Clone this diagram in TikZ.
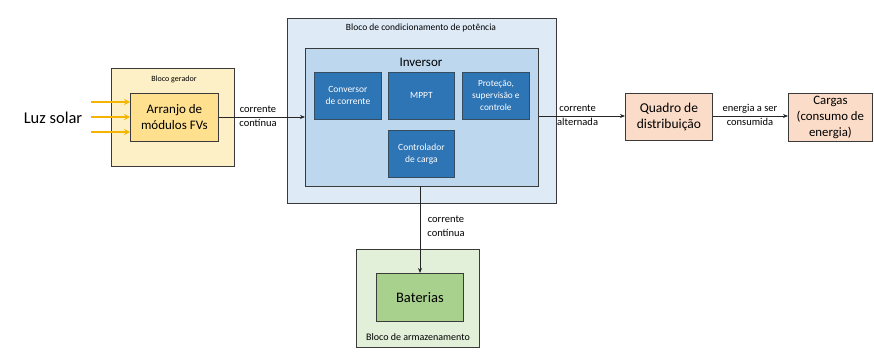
\documentclass[tikz,border=0pt]{standalone}
\usepackage{fontspec}
\setmainfont{Carlito}
\usetikzlibrary{arrows.meta,positioning}
\definecolor{gerOut}{HTML}{FDF0C6}
\definecolor{gerIn}{HTML}{FFE08F}
\definecolor{sunArrow}{HTML}{F5B400}
\definecolor{bluOut}{HTML}{DEEBF7}
\definecolor{bluMid}{HTML}{BDD7EE}
\definecolor{bluDark}{HTML}{2E75B6}
\definecolor{grnOut}{HTML}{E2F0D9}
\definecolor{grnIn}{HTML}{A9D18E}
\definecolor{peach}{HTML}{FBDCC8}
\definecolor{edge}{HTML}{3A3A3A}
\tikzset{
  x=1pt,y=-1pt,
  boxbase/.style={draw=edge,line width=0.8pt,inner sep=0pt,anchor=north west},
  blk/.style={boxbase},
  subbox/.style={boxbase,fill=bluDark,draw=edge!70!bluDark},
  subtxt/.style={text=white,font=\fontsize{9.5}{12}\selectfont,align=center,anchor=center,inner sep=0pt},
  lbl/.style={font=\fontsize{8}{9.5}\selectfont,align=center,inner sep=0pt},
  midlbl/.style={font=\fontsize{10.5}{13.5}\selectfont,align=center,inner sep=0pt},
  bigtxt/.style={font=\fontsize{13.5}{16.5}\selectfont,align=center,anchor=center},
  conn/.style={draw=black!85,line width=0.8pt,-{Stealth[length=5pt,width=4pt]}},
  sun/.style={draw=sunArrow,line width=2pt,-{Stealth[length=6pt,width=6pt]}}
}
\begin{document}
\begin{tikzpicture}
\useasboundingbox[fill=white] (0,0) rectangle (874,358);
% Bloco gerador
\node[blk,fill=gerOut,minimum width=123pt,minimum height=98pt] (ger) at (111,68) {};
\node[lbl] (gerlbl) at (174,79) {Bloco gerador};
\node[blk,fill=gerIn,minimum width=88pt,minimum height=48pt] (arr) at (130,93) {};
\node[bigtxt,font=\fontsize{13}{16}\selectfont] (arrtxt) at (arr.center) {Arranjo de\\módulos FVs};
\node[font=\fontsize{16.5}{19}\selectfont] (luz) at (53,118) {Luz solar};
\coordinate (s1) at (91,102);
\coordinate (s2) at (91,117);
\coordinate (s3) at (91,132);
\draw[sun] (s1) -- (s1 -| arr.west);
\draw[sun] (s2) -- (s2 -| arr.west);
\draw[sun] (s3) -- (s3 -| arr.west);
% Bloco de condicionamento
\node[blk,fill=bluOut,minimum width=269pt,minimum height=185pt] (cond) at (287,18) {};
\node[lbl,font=\fontsize{9.5}{11}\selectfont] (condlbl) at (421,28) {Bloco de condicionamento de potência};
\node[blk,fill=bluMid,minimum width=233pt,minimum height=138pt] (inv) at (305,48) {};
\node[font=\fontsize{13}{14}\selectfont] (invlbl) at (421,62) {Inversor};
\node[subbox,minimum width=67pt,minimum height=47pt] (conv) at (314,72) {};
\node[subtxt] (convtxt) at (conv.center) {Conversor\\de corrente};
\node[subbox,minimum width=66pt,minimum height=47pt] (mppt) at (388,72) {};
\node[subtxt] (mppttxt) at (mppt.center) {MPPT};
\node[subbox,minimum width=67pt,minimum height=47pt] (prot) at (462,72) {};
\node[subtxt,font=\fontsize{9.3}{12}\selectfont] (prottxt) at (prot.center) {Proteção,\\supervisão e\\controle};
\node[subbox,minimum width=66pt,minimum height=47pt] (ctrl) at (388,130) {};
\node[subtxt] (ctrltxt) at (ctrl.center) {Controlador\\de carga};
% Quadro and Cargas
\node[blk,fill=peach,minimum width=87pt,minimum height=47pt] (quad) at (625,93) {};
\node[bigtxt] (quadtxt) at (quad.center) {Quadro de\\distribuição};
\node[blk,fill=peach,minimum width=84pt,minimum height=48pt] (carg) at (788,93) {};
\node[bigtxt,font=\fontsize{12.8}{16}\selectfont] (cargtxt) at (carg.center) {Cargas\\(consumo de\\energia)};
% Armazenamento
\node[blk,fill=grnOut,minimum width=123pt,minimum height=98pt] (arm) at (356,249) {};
\node[lbl,font=\fontsize{10}{11}\selectfont] (armlbl) at (418,337) {Bloco de armazenamento};
\node[blk,fill=grnIn,minimum width=87pt,minimum height=48pt] (bat) at (376,273) {};
\node[bigtxt,font=\fontsize{14.5}{16}\selectfont] (battxt) at (bat.center) {Baterias};
% Connectors
\coordinate (a1) at (218,117);
\draw[conn] (arr.east |- a1) -- (inv.west |- a1);
\node[midlbl] (l1) at (258,116) {corrente\\contínua};
\coordinate (a2) at (538,116);
\draw[conn] (inv.east |- a2) -- (quad.west |- a2);
\node[midlbl,anchor=west] (l2) at (557,115) {corrente\\alternada};
\draw[conn] (quad.east |- a2) -- (carg.west |- a2);
\node[midlbl] (l3) at (750,115) {energia a ser\\consumida};
\coordinate (a3) at (420,186);
\draw[conn] (a3) -- (a3 |- bat.north);
\node[midlbl] (l4) at (446,226) {corrente\\contínua};
\end{tikzpicture}
\end{document}
